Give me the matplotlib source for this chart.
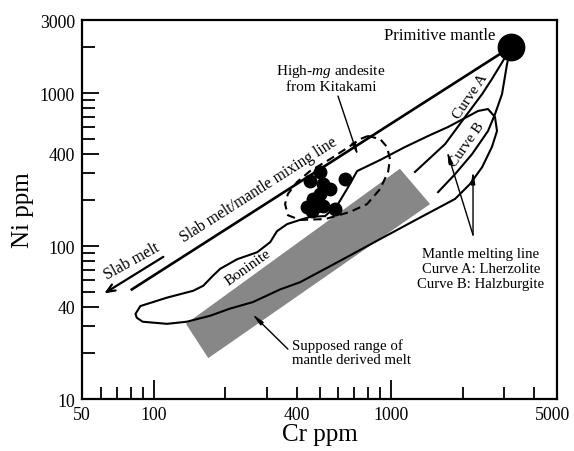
import matplotlib.pyplot as plt
import matplotlib.transforms as mtransforms
from matplotlib.patches import Polygon
from matplotlib.ticker import NullFormatter

plt.rcParams['font.family'] = ['Liberation Serif', 'DejaVu Serif']
plt.rcParams['mathtext.fontset'] = 'custom'
plt.rcParams['mathtext.rm'] = 'Liberation Serif'
plt.rcParams['mathtext.it'] = 'Liberation Serif:italic'

# --- data (Cr ppm, Ni ppm) ---
primitive_cr = [3200]
primitive_ni = [2000]

kitakami_cr = [640, 503, 456, 517, 554, 503, 470, 443, 488, 517, 581, 465]
kitakami_ni = [274, 305, 266, 254, 236, 219, 203, 180, 182, 182, 174, 169]

mixing_cr = [81, 3200]
mixing_ni = [52, 2000]

curve_a_cr = [3200, 2960, 2660, 2420, 2050, 1690, 1262]
curve_a_ni = [2000, 1620, 1234, 985, 697, 464, 305]

curve_b_cr = [3200, 3080, 2934, 2742, 2562, 2195, 1861, 1578]
curve_b_ni = [2000, 1547, 985, 729, 565, 399, 295, 225]

boninite_cr = [84, 88, 114, 147, 162, 178, 191, 225, 273, 310,
               331, 365, 402, 456, 528, 598, 653, 720, 900, 1146,
               1460, 1740, 2050, 2325, 2560, 2740, 2795, 2660, 2420, 2150,
               1860, 1290, 900, 610, 414, 341, 262, 210, 173, 138,
               114, 90, 85]
boninite_ni = [36, 40.5, 46, 51, 55, 64, 71, 82, 91, 106,
               125, 139, 146, 155, 157, 188, 236, 309, 365, 444,
               531, 600, 687, 763, 786, 697, 565, 444, 328, 254,
               203, 150, 111, 80, 58, 52, 43, 39, 35, 32,
               31, 32, 34]

hmg_cr = [800, 900, 962, 990, 972, 900, 793, 672, 528, 414,
          368, 358, 368, 402, 456, 554, 672, 741, 800]
hmg_ni = [524, 500, 444, 370, 305, 236, 188, 167, 150, 148,
          159, 188, 219, 262, 309, 370, 450, 500, 524]

band_cr = [137, 1090, 1460, 170]
band_ni = [31, 320, 188, 18.5]

x_ticks = [50, 100, 400, 1000, 5000]
x_labels = ['50', '100', '400', '1000', '5000']
x_minor = [60, 70, 80, 90, 200, 300, 500, 600, 700, 800, 900, 2000, 3000, 4000]
y_ticks = [10, 40, 100, 400, 1000, 3000]
y_labels = ['10', '40', '100', '400', '1000', '3000']
y_minor = [20, 30, 50, 60, 70, 80, 90, 200, 300, 500, 600, 700, 800, 900, 2000]

fig = plt.figure(figsize=(5.74, 4.52), dpi=100)
ax = fig.add_axes([0.1429, 0.115, 0.8275, 0.8385])
ax.set_xscale('log')
ax.set_yscale('log')
ax.set_xlim(50, 5000)
ax.set_ylim(10, 3000)

# supposed range of mantle derived melt
ax.add_patch(Polygon(list(zip(band_cr, band_ni)), closed=True,
                     facecolor='#878787', edgecolor='none', zorder=1))

# boninite field and high-mg andesite field
ax.add_patch(Polygon(list(zip(boninite_cr, boninite_ni)), closed=True,
                     facecolor='none', edgecolor='k', lw=1.5, zorder=2))
ax.plot(hmg_cr, hmg_ni, color='k', lw=1.5, ls=(0, (4, 2.5)), zorder=2)

# mixing line and mantle melting curves
ax.plot(mixing_cr, mixing_ni, color='k', lw=1.9, zorder=3)
ax.plot(curve_a_cr, curve_a_ni, color='k', lw=1.5, zorder=3)
ax.plot(curve_b_cr, curve_b_ni, color='k', lw=1.5, zorder=3)

ax.plot(kitakami_cr, kitakami_ni, 'o', color='k', ms=9, zorder=4)
ax.plot(primitive_cr, primitive_ni, 'o', color='k', ms=19, zorder=4, clip_on=False)

# arrows
thin = dict(arrowstyle='-|>,head_length=0.7,head_width=0.12', color='k', lw=1,
            shrinkA=0, shrinkB=0)
ax.annotate('', xy=(62, 49), xytext=(110, 85),
            arrowprops=dict(arrowstyle='->,head_length=0.6,head_width=0.25',
                            color='k', lw=1.6, shrinkA=0, shrinkB=0))
ax.annotate('', xy=(726, 388), xytext=(598, 956), arrowprops=thin)
ax.annotate('', xy=(260, 36), xytext=(368, 21.2), arrowprops=thin)
ax.annotate('', xy=(1720, 418), xytext=(2215, 118), arrowprops=thin)
ax.annotate('', xy=(2215, 309), xytext=(2215, 118), arrowprops=thin)

# labels
fs = 11
ax.text(1610, 2390, 'Primitive mantle', fontsize=12, ha='center', va='center')
ax.text(560, 1270, 'High-$\\mathit{mg}$ andesite\nfrom Kitakami', fontsize=fs,
        ha='center', va='center', linespacing=1.1)
ax.text(81, 80, 'Slab melt', fontsize=11.5, ha='center', va='center',
        rotation=29, rotation_mode='anchor')
ax.text(278, 236, 'Slab melt/mantle mixing line', fontsize=11.3, ha='center',
        va='center', rotation=32.5, rotation_mode='anchor')
ax.text(250, 73, 'Boninite', fontsize=fs, ha='center', va='center',
        rotation=35.5, rotation_mode='anchor')
ax.text(2150, 956, 'Curve A', fontsize=fs, ha='center', va='center',
        rotation=56, rotation_mode='anchor')
ax.text(2090, 464, 'Curve B', fontsize=fs, ha='center', va='center',
        rotation=55, rotation_mode='anchor')
ax.text(383, 20.3, 'Supposed range of\nmantle derived melt', fontsize=10.7,
        ha='left', va='center', linespacing=1.05)
ax.text(2390, 71, 'Mantle melting line\nCurve A: Lherzolite\nCurve B: Halzburgite',
        fontsize=10.6, ha='center', va='center', linespacing=1.2)

# axes styling
ax.set_xticks(x_ticks, labels=x_labels)
ax.set_xticks(x_minor, minor=True)
ax.set_yticks(y_ticks, labels=y_labels)
ax.set_yticks(y_minor, minor=True)
ax.xaxis.set_minor_formatter(NullFormatter())
ax.yaxis.set_minor_formatter(NullFormatter())
ax.tick_params(which='both', direction='in', top=False, right=False,
               width=1.3, labelsize=12.8)
ax.tick_params(which='major', length=12, pad=5)
ax.tick_params(which='minor', length=9)
for t, v in zip(ax.xaxis.get_major_ticks(), x_ticks):
    if v in (100, 1000):
        t.tick1line.set_markersize(14)
    elif v == 400:
        t.tick1line.set_markersize(9)
for sp in ax.spines.values():
    sp.set_linewidth(1.6)

# nudge the last x label so it stays inside the figure
last = ax.get_xticklabels()[-1]
last.set_transform(last.get_transform() +
                   mtransforms.ScaledTranslation(-0.05, 0, fig.dpi_scale_trans))

ax.set_xlabel('Cr ppm', fontsize=18, labelpad=0)
ax.set_ylabel('Ni ppm', fontsize=18, labelpad=4)

fig.savefig('out.png', dpi=100)
